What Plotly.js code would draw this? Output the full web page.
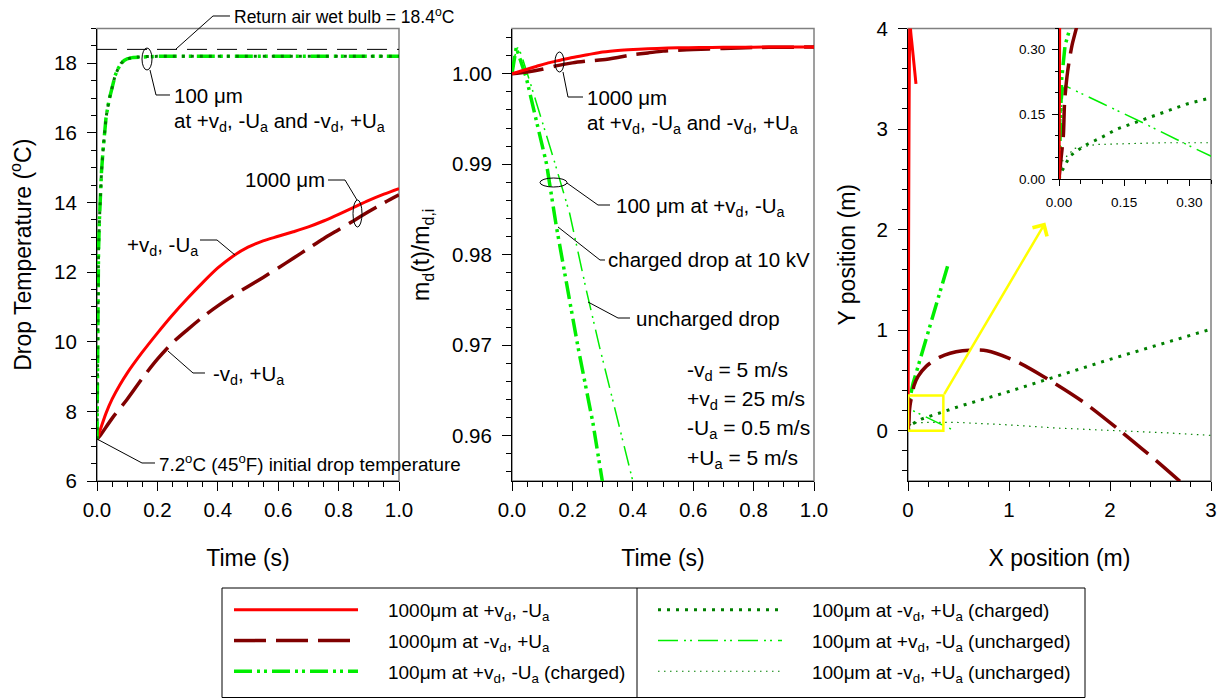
<!DOCTYPE html>
<html>
<head>
<meta charset="utf-8">
<script src="https://cdn.plot.ly/plotly-3.0.1.min.js"></script>
<style>html,body{margin:0;padding:0;background:#fff;}#chart{width:1220px;height:698px;}</style>
</head>
<body>
<div id="chart"></div>
<script>
// ---------------- DATA ----------------
// Panel 1: drop temperature (°C) vs time (s)
const wetBulbTime = [0, 1];
const wetBulbTemp = [18.4, 18.4];
const tTemp1000Pos = [0, 0.01, 0.03, 0.05, 0.075, 0.1, 0.15, 0.2, 0.25, 0.3, 0.35, 0.4, 0.45, 0.5, 0.55, 0.6, 0.65, 0.7, 0.75, 0.8, 0.85, 0.9, 0.95, 1.0];
const temp1000Pos  = [7.2, 7.45, 7.95, 8.35, 8.75, 9.1, 9.7, 10.25, 10.77, 11.25, 11.7, 12.12, 12.46, 12.72, 12.9, 13.03, 13.16, 13.3, 13.47, 13.66, 13.86, 14.06, 14.24, 14.4];
const tTemp1000Neg = [0, 0.01, 0.05, 0.1, 0.15, 0.2, 0.25, 0.3, 0.35, 0.4, 0.45, 0.5, 0.55, 0.6, 0.65, 0.7, 0.75, 0.8, 0.85, 0.9, 0.95, 1.0];
const temp1000Neg  = [7.2, 7.3, 7.8, 8.35, 8.95, 9.5, 9.97, 10.35, 10.71, 11.03, 11.32, 11.59, 11.85, 12.12, 12.4, 12.68, 12.96, 13.22, 13.48, 13.74, 13.99, 14.22];
const tTemp100 = [0, 0.001, 0.002, 0.003, 0.005, 0.008, 0.011, 0.015, 0.02, 0.025, 0.03, 0.04, 0.05, 0.06, 0.07, 0.08, 0.09, 0.1, 0.12, 0.15, 0.2, 0.3, 0.4, 0.5, 0.6, 0.7, 0.8, 0.9, 1.0];
const temp100PosCharged = [7.2, 8.6, 10.1, 11.5, 12.6, 13.5, 14.2, 14.9, 15.5, 16.0, 16.45, 16.95, 17.35, 17.65, 17.85, 18.0, 18.08, 18.13, 18.17, 18.19, 18.2, 18.2, 18.2, 18.2, 18.2, 18.2, 18.2, 18.2, 18.2];
const temp100NegCharged = [7.2, 8.6, 10.1, 11.5, 12.6, 13.5, 14.2, 14.9, 15.5, 16.0, 16.45, 16.95, 17.35, 17.65, 17.85, 18.0, 18.08, 18.13, 18.17, 18.19, 18.2, 18.2, 18.2, 18.2, 18.2, 18.2, 18.2, 18.2, 18.2];

// Panel 2: mass ratio md(t)/md,i vs time (s)
const tMass1000Pos = [0, 0.02, 0.05, 0.08, 0.12, 0.16, 0.2, 0.25, 0.3, 0.36, 0.42, 0.48, 0.55, 0.62, 0.7, 0.8, 0.9, 1.0];
const mass1000Pos  = [1.0, 1.0002, 1.0005, 1.0008, 1.0012, 1.0015, 1.0018, 1.0021, 1.0024, 1.0026, 1.00272, 1.0028, 1.00286, 1.0029, 1.00292, 1.00294, 1.00295, 1.00295];
const tMass1000Neg = [0, 0.05, 0.1, 0.15, 0.2, 0.25, 0.3, 0.35, 0.4, 0.45, 0.5, 0.55, 0.6, 0.7, 0.8, 0.9, 1.0];
const mass1000Neg  = [1.0, 1.0002, 1.0005, 1.0009, 1.0012, 1.0014, 1.00155, 1.0018, 1.0021, 1.0023, 1.0025, 1.0026, 1.00268, 1.0028, 1.0029, 1.00293, 1.00295];
const tMass100Charged = [0, 0.007, 0.014, 0.025, 0.047, 0.08, 0.114, 0.147, 0.185, 0.2185, 0.268, 0.3];
const mass100Charged  = [1.0, 1.0018, 1.0029, 1.0018, 0.9996, 0.9949, 0.9901, 0.9831, 0.9761, 0.9698, 0.9614, 0.9548];
const tMass100Unch = [0, 0.008, 0.018, 0.03, 0.058, 0.1, 0.136, 0.191, 0.246, 0.29, 0.345, 0.4];
const mass100Unch  = [1.0, 1.0018, 1.0029, 1.0022, 0.99926, 0.99472, 0.99081, 0.98456, 0.9761, 0.9698, 0.9625, 0.955];

// Panel 3: trajectories, X position (m) vs Y position (m)
const xPos1000Pos = [0, 0.001, 0.002, 0.004, 0.007, 0.01, 0.014, 0.018, 0.022, 0.026, 0.04, 0.06, 0.079];
const yPos1000Pos = [0, 0.2, 0.5, 1.2, 2.2, 3.0, 3.7, 4.05, 4.12, 3.98, 3.84, 3.64, 3.45];
const xPos1000Neg = [0, 0.005, 0.01, 0.013, 0.02, 0.03, 0.041, 0.06, 0.1, 0.18, 0.31, 0.54, 0.78, 1.07, 1.34, 1.73, 2.1, 2.46, 2.7];
const yPos1000Neg = [0, 0.05, 0.1, 0.18, 0.25, 0.31, 0.354, 0.45, 0.54, 0.64, 0.73, 0.795, 0.795, 0.69, 0.54, 0.29, 0.0, -0.3, -0.51];
const xPos100PosCharged = [0, 0.002, 0.006, 0.014, 0.025, 0.05, 0.1, 0.2, 0.3, 0.4];
const yPos100PosCharged = [0, 0.1, 0.23, 0.31, 0.35, 0.47, 0.64, 0.99, 1.33, 1.665];
const xPos100NegCharged = [0, 0.006, 0.025, 0.045, 0.064, 0.099, 0.134, 0.187, 0.241, 0.295, 0.349, 0.5, 1.0, 1.5, 2.0, 2.5, 3.0];
const yPos100NegCharged = [0, 0.017, 0.053, 0.068, 0.080, 0.097, 0.116, 0.135, 0.155, 0.174, 0.188, 0.24, 0.39, 0.55, 0.71, 0.86, 1.01];
const xPos100PosUnch = [0, 0.002, 0.005, 0.01, 0.014, 0.1, 0.2, 0.3, 0.349, 0.46];
const yPos100PosUnch = [0, 0.08, 0.16, 0.21, 0.216, 0.175, 0.127, 0.077, 0.052, 0.0];
const xPos100NegUnch = [0, 0.009, 0.036, 0.086, 0.163, 0.24, 0.349, 0.5, 1.0, 1.5, 2.0, 2.5, 3.0];
const yPos100NegUnch = [0, 0.044, 0.071, 0.080, 0.082, 0.084, 0.084, 0.082, 0.058, 0.025, 0.005, -0.018, -0.046];
const zoomWindow = [0, 0.35];      // inset window (m), both axes
const zoomArrowTip = [1.36, 2.07]; // where the yellow arrow points (m)

// Series names (legend)
const seriesNames = [
  '1000μm at +v<sub>d</sub>, -U<sub>a</sub>',
  '1000μm at -v<sub>d</sub>, +U<sub>a</sub>',
  '100μm at +v<sub>d</sub>, -U<sub>a</sub> (charged)',
  '100μm at -v<sub>d</sub>, +U<sub>a</sub> (charged)',
  '100μm at +v<sub>d</sub>, -U<sub>a</sub> (uncharged)',
  '100μm at -v<sub>d</sub>, +U<sub>a</sub> (uncharged)'
];

// ---------------- STYLES ----------------
const FONT = 'Liberation Sans, Arial, sans-serif';
const W = 1220, H = 698;
const X = v => v / W;
const Y = v => 1 - v / H;
const styles = [
  {color: '#FF0000', width: 3, dash: 'solid'},
  {color: '#800000', width: 3.5, dash: '32px,10px'},
  {color: '#00EE00', width: 3.5, dash: '18px,5px,3px,4px,3px,5px'},
  {color: '#008000', width: 3, dash: '3px,6px'},
  {color: '#00EE00', width: 1.5, dash: '20px,6px,2px,4px,2px,6px'},
  {color: '#008000', width: 1.2, dash: '1.5px,4.5px'}
];
const smooth = [true, true, false, false, false, false];
const legendOf = ['legend', 'legend', 'legend', 'legend2', 'legend2', 'legend2'];
const legendRanks = [1, 2, 3, 1, 2, 3];
const PAD = '\u2007\u2007\u2009';

function tr(i, x, y, xa, ya, showLeg) {
  const line = Object.assign({}, styles[i]);
  if (smooth[i]) { line.shape = 'spline'; line.smoothing = 0.8; }
  return {
    type: 'scatter', mode: 'lines', x: x, y: y, xaxis: xa, yaxis: ya,
    name: PAD + seriesNames[i], line: line, legend: legendOf[i], legendgroup: 'g' + i,
    showlegend: !!showLeg, legendrank: legendRanks[i], hoverinfo: 'skip'
  };
}

const traces = [];
// panel 1
traces.push({type: 'scatter', mode: 'lines', x: wetBulbTime, y: wetBulbTemp, xaxis: 'x', yaxis: 'y',
  line: {color: '#000', width: 1, dash: '20px,10px'}, showlegend: false, hoverinfo: 'skip'});
traces.push(tr(1, tTemp1000Neg, temp1000Neg, 'x', 'y'));
traces.push(tr(0, tTemp1000Pos, temp1000Pos, 'x', 'y'));
traces.push(tr(2, tTemp100, temp100PosCharged, 'x', 'y'));
traces.push(tr(3, tTemp100, temp100NegCharged, 'x', 'y'));
// panel 2
traces.push(tr(4, tMass100Unch, mass100Unch, 'x2', 'y2'));
traces.push(tr(2, tMass100Charged, mass100Charged, 'x2', 'y2'));
traces.push(tr(1, tMass1000Neg, mass1000Neg, 'x2', 'y2'));
traces.push(tr(0, tMass1000Pos, mass1000Pos, 'x2', 'y2'));
// panel 3 main + inset
const traj = [
  [5, xPos100NegUnch, yPos100NegUnch],
  [4, xPos100PosUnch, yPos100PosUnch],
  [3, xPos100NegCharged, yPos100NegCharged],
  [2, xPos100PosCharged, yPos100PosCharged],
  [1, xPos1000Neg, yPos1000Neg],
  [0, xPos1000Pos, yPos1000Pos]
];
traj.forEach(s => traces.push(tr(s[0], s[1], s[2], 'x3', 'y3', true)));
traj.forEach(s => traces.push(tr(s[0], s[1], s[2], 'x4', 'y4')));

// ---------------- AXES ----------------
function axis(o) {
  const base = {
    showline: true, linecolor: '#000', linewidth: 1, mirror: false,
    ticks: 'outside', ticklen: 9, tickwidth: 1, tickcolor: '#000',
    showgrid: false, zeroline: false, automargin: false,
    tickfont: {family: FONT, size: 20.5, color: '#000'},
    ticklabelstandoff: 6
  };
  return Object.assign(base, o);
}
const titleFont = {family: FONT, size: 23, color: '#000'};
const yTop = 28.5, yBot = 481;
const minorTicks = d => ({dtick: d, ticks: 'outside', ticklen: 5, tickcolor: '#000', showgrid: false});
const legendBase = {
  orientation: 'v', xanchor: 'left', yanchor: 'top', bgcolor: 'rgba(0,0,0,0)', borderwidth: 0,
  itemwidth: 124, tracegroupgap: 3, traceorder: 'grouped',
  font: {family: FONT, size: 19, color: '#000'}
};

const layout = {
  width: W, height: H,
  margin: {l: 0, r: 0, t: 0, b: 0, pad: 0, autoexpand: false},
  paper_bgcolor: '#fff', plot_bgcolor: 'rgba(0,0,0,0)',
  showlegend: true, hovermode: false,
  font: {family: FONT, size: 17, color: '#000'},
  xaxis: axis({domain: [X(97), X(399)], anchor: 'y', range: [0, 1], dtick: 0.2, tickformat: '.1f',
    minor: minorTicks(0.05), title: {text: 'Time (s)', font: titleFont, standoff: 30}, ticklabelstandoff: 1}),
  yaxis: axis({domain: [Y(yBot), Y(yTop)], anchor: 'x', range: [6, 19], tickvals: [6, 8, 10, 12, 14, 16, 18],
    minor: minorTicks(0.5), title: {text: 'Drop Temperature (<sup>o</sup>C)', font: titleFont, standoff: 16}}),
  xaxis2: axis({domain: [X(512), X(814)], anchor: 'y2', range: [0, 1], dtick: 0.2, tickformat: '.1f',
    minor: minorTicks(0.05), title: {text: 'Time (s)', font: titleFont, standoff: 30}, ticklabelstandoff: 1}),
  yaxis2: axis({domain: [Y(yBot), Y(yTop)], anchor: 'x2', range: [0.955, 1.005], dtick: 0.01, tickformat: '.2f',
    minor: minorTicks(0.002), title: {text: 'm<sub>d</sub>(t)/m<sub>d,i</sub>', font: titleFont, standoff: 15}}),
  xaxis3: axis({domain: [X(908), X(1211)], anchor: 'y3', range: [0, 3], dtick: 1,
    minor: minorTicks(0.2), title: {text: 'X position (m)', font: titleFont, standoff: 30}, ticklabelstandoff: 1}),
  yaxis3: axis({domain: [Y(yBot), Y(yTop)], anchor: 'x3', range: [-0.5, 4], dtick: 1,
    minor: minorTicks(0.2), title: {text: 'Y position (m)', font: titleFont, standoff: 14}}),
  xaxis4: axis({domain: [X(1059), X(1211)], anchor: 'y4', range: zoomWindow, dtick: 0.15, tickformat: '.2f',
    ticklen: 6, tickfont: {family: FONT, size: 13.5, color: '#000'}, ticklabelstandoff: 5,
    minor: {dtick: 0.05, ticks: 'outside', ticklen: 3.5, tickcolor: '#000', showgrid: false}}),
  yaxis4: axis({domain: [Y(179), Y(28)], anchor: 'x4', range: zoomWindow, dtick: 0.15, tickformat: '.2f',
    ticklen: 6, tickfont: {family: FONT, size: 13.5, color: '#000'}, ticklabelstandoff: 4,
    minor: {dtick: 0.05, ticks: 'outside', ticklen: 3.5, tickcolor: '#000', showgrid: false}}),
  legend: Object.assign({x: X(229), y: Y(591)}, legendBase),
  legend2: Object.assign({x: X(653), y: Y(591)}, legendBase),
  shapes: [],
  annotations: []
};

// gray frames (top/right borders)
['', '2', '3'].forEach(s => {
  layout.shapes.push({type: 'rect', xref: 'x' + s + ' domain', yref: 'y' + s + ' domain',
    x0: 0, x1: 1, y0: 0, y1: 1, line: {color: '#808080', width: 1.5}, layer: 'below'});
});

// zoom window + arrow
layout.shapes.push({type: 'rect', xref: 'x3', yref: 'y3', x0: zoomWindow[0], x1: zoomWindow[1],
  y0: zoomWindow[0], y1: zoomWindow[1], line: {color: '#FFFF00', width: 2.5}});
layout.annotations.push({xref: 'x3', yref: 'y3', axref: 'x3', ayref: 'y3',
  x: zoomArrowTip[0], y: zoomArrowTip[1], ax: zoomWindow[1], ay: zoomWindow[1],
  text: '', showarrow: true, arrowhead: 4, arrowsize: 1.3, arrowwidth: 2.5, arrowcolor: '#FFFF00', standoff: 0, startstandoff: 0});

// legend box
layout.shapes.push({type: 'rect', xref: 'paper', yref: 'paper', x0: X(222), x1: X(1085), y0: Y(697.5), y1: Y(588),
  line: {color: '#000', width: 1}});
layout.shapes.push({type: 'line', xref: 'paper', yref: 'paper', x0: X(637), x1: X(637), y0: Y(697.5), y1: Y(588),
  line: {color: '#000', width: 1}});

// leader lines, ellipses, notes (pixel positions)
function pathPx(pts) {
  return pts.map((p, i) => (i ? 'L' : 'M') + X(p[0]).toFixed(5) + ',' + Y(p[1]).toFixed(5)).join(' ');
}
function leader(pts) {
  layout.shapes.push({type: 'path', xref: 'paper', yref: 'paper', path: pathPx(pts), line: {color: '#000', width: 1}});
}
function ellipse(x0, x1, y0, y1) {
  layout.shapes.push({type: 'circle', xref: 'paper', yref: 'paper', x0: X(x0), x1: X(x1), y0: Y(y1), y1: Y(y0),
    line: {color: '#000', width: 1}});
}
function note(text, x, y, size) {
  layout.annotations.push({xref: 'paper', yref: 'paper', x: X(x), y: Y(y), xanchor: 'left', yanchor: 'middle',
    text: text, showarrow: false, align: 'left', font: {family: FONT, size: size || 20.5, color: '#000'}});
}
// panel 1
note('Return air wet bulb = 18.4<sup>o</sup>C', 232, 16, 17.5);
leader([[230, 16], [213, 16], [176, 49]]);
ellipse(142, 152, 48, 70);
leader([[150, 70], [156, 95], [170, 95]]);
note('100 μm', 172, 95);
note('at +v<sub>d</sub>, -U<sub>a</sub> and -v<sub>d</sub>, +U<sub>a</sub>', 172, 122);
note('1000 μm', 243, 180);
leader([[328, 180], [345, 180], [357, 200]]);
ellipse(353, 362, 200, 227);
note('+v<sub>d</sub>, -U<sub>a</sub>', 125, 246);
leader([[200, 240], [217, 240], [235, 255]]);
note('-v<sub>d</sub>, +U<sub>a</sub>', 211, 375);
leader([[205, 373], [193, 373], [168, 351]]);
note('7.2<sup>o</sup>C (45<sup>o</sup>F) initial drop temperature', 157, 463, 18.8);
leader([[97, 439], [142, 463], [155, 463]]);
// panel 2
ellipse(555, 564, 52, 72);
leader([[563, 72], [568, 97], [583, 97]]);
note('1000 μm', 585, 97);
note('at +v<sub>d</sub>, -U<sub>a</sub> and -v<sub>d</sub>, +U<sub>a</sub>', 585, 124);
ellipse(540, 567, 178, 187);
leader([[567, 183], [598, 205], [610, 205]]);
note('100 μm at +v<sub>d</sub>, -U<sub>a</sub>', 614, 207);
leader([[558, 227], [600, 260], [605, 260]]);
note('charged drop at 10 kV', 606, 260);
leader([[588, 302], [618, 318], [630, 318]]);
note('uncharged drop', 634, 318);
note('-v<sub>d</sub> = 5 m/s', 685, 371, 21);
note('+v<sub>d</sub> = 25 m/s', 685, 400, 21);
note('-U<sub>a</sub> = 0.5 m/s', 685, 429, 21);
note('+U<sub>a</sub> = 5 m/s', 685, 459, 21);

Plotly.newPlot('chart', traces, layout, {displayModeBar: false, staticPlot: true});
</script>
</body>
</html>
